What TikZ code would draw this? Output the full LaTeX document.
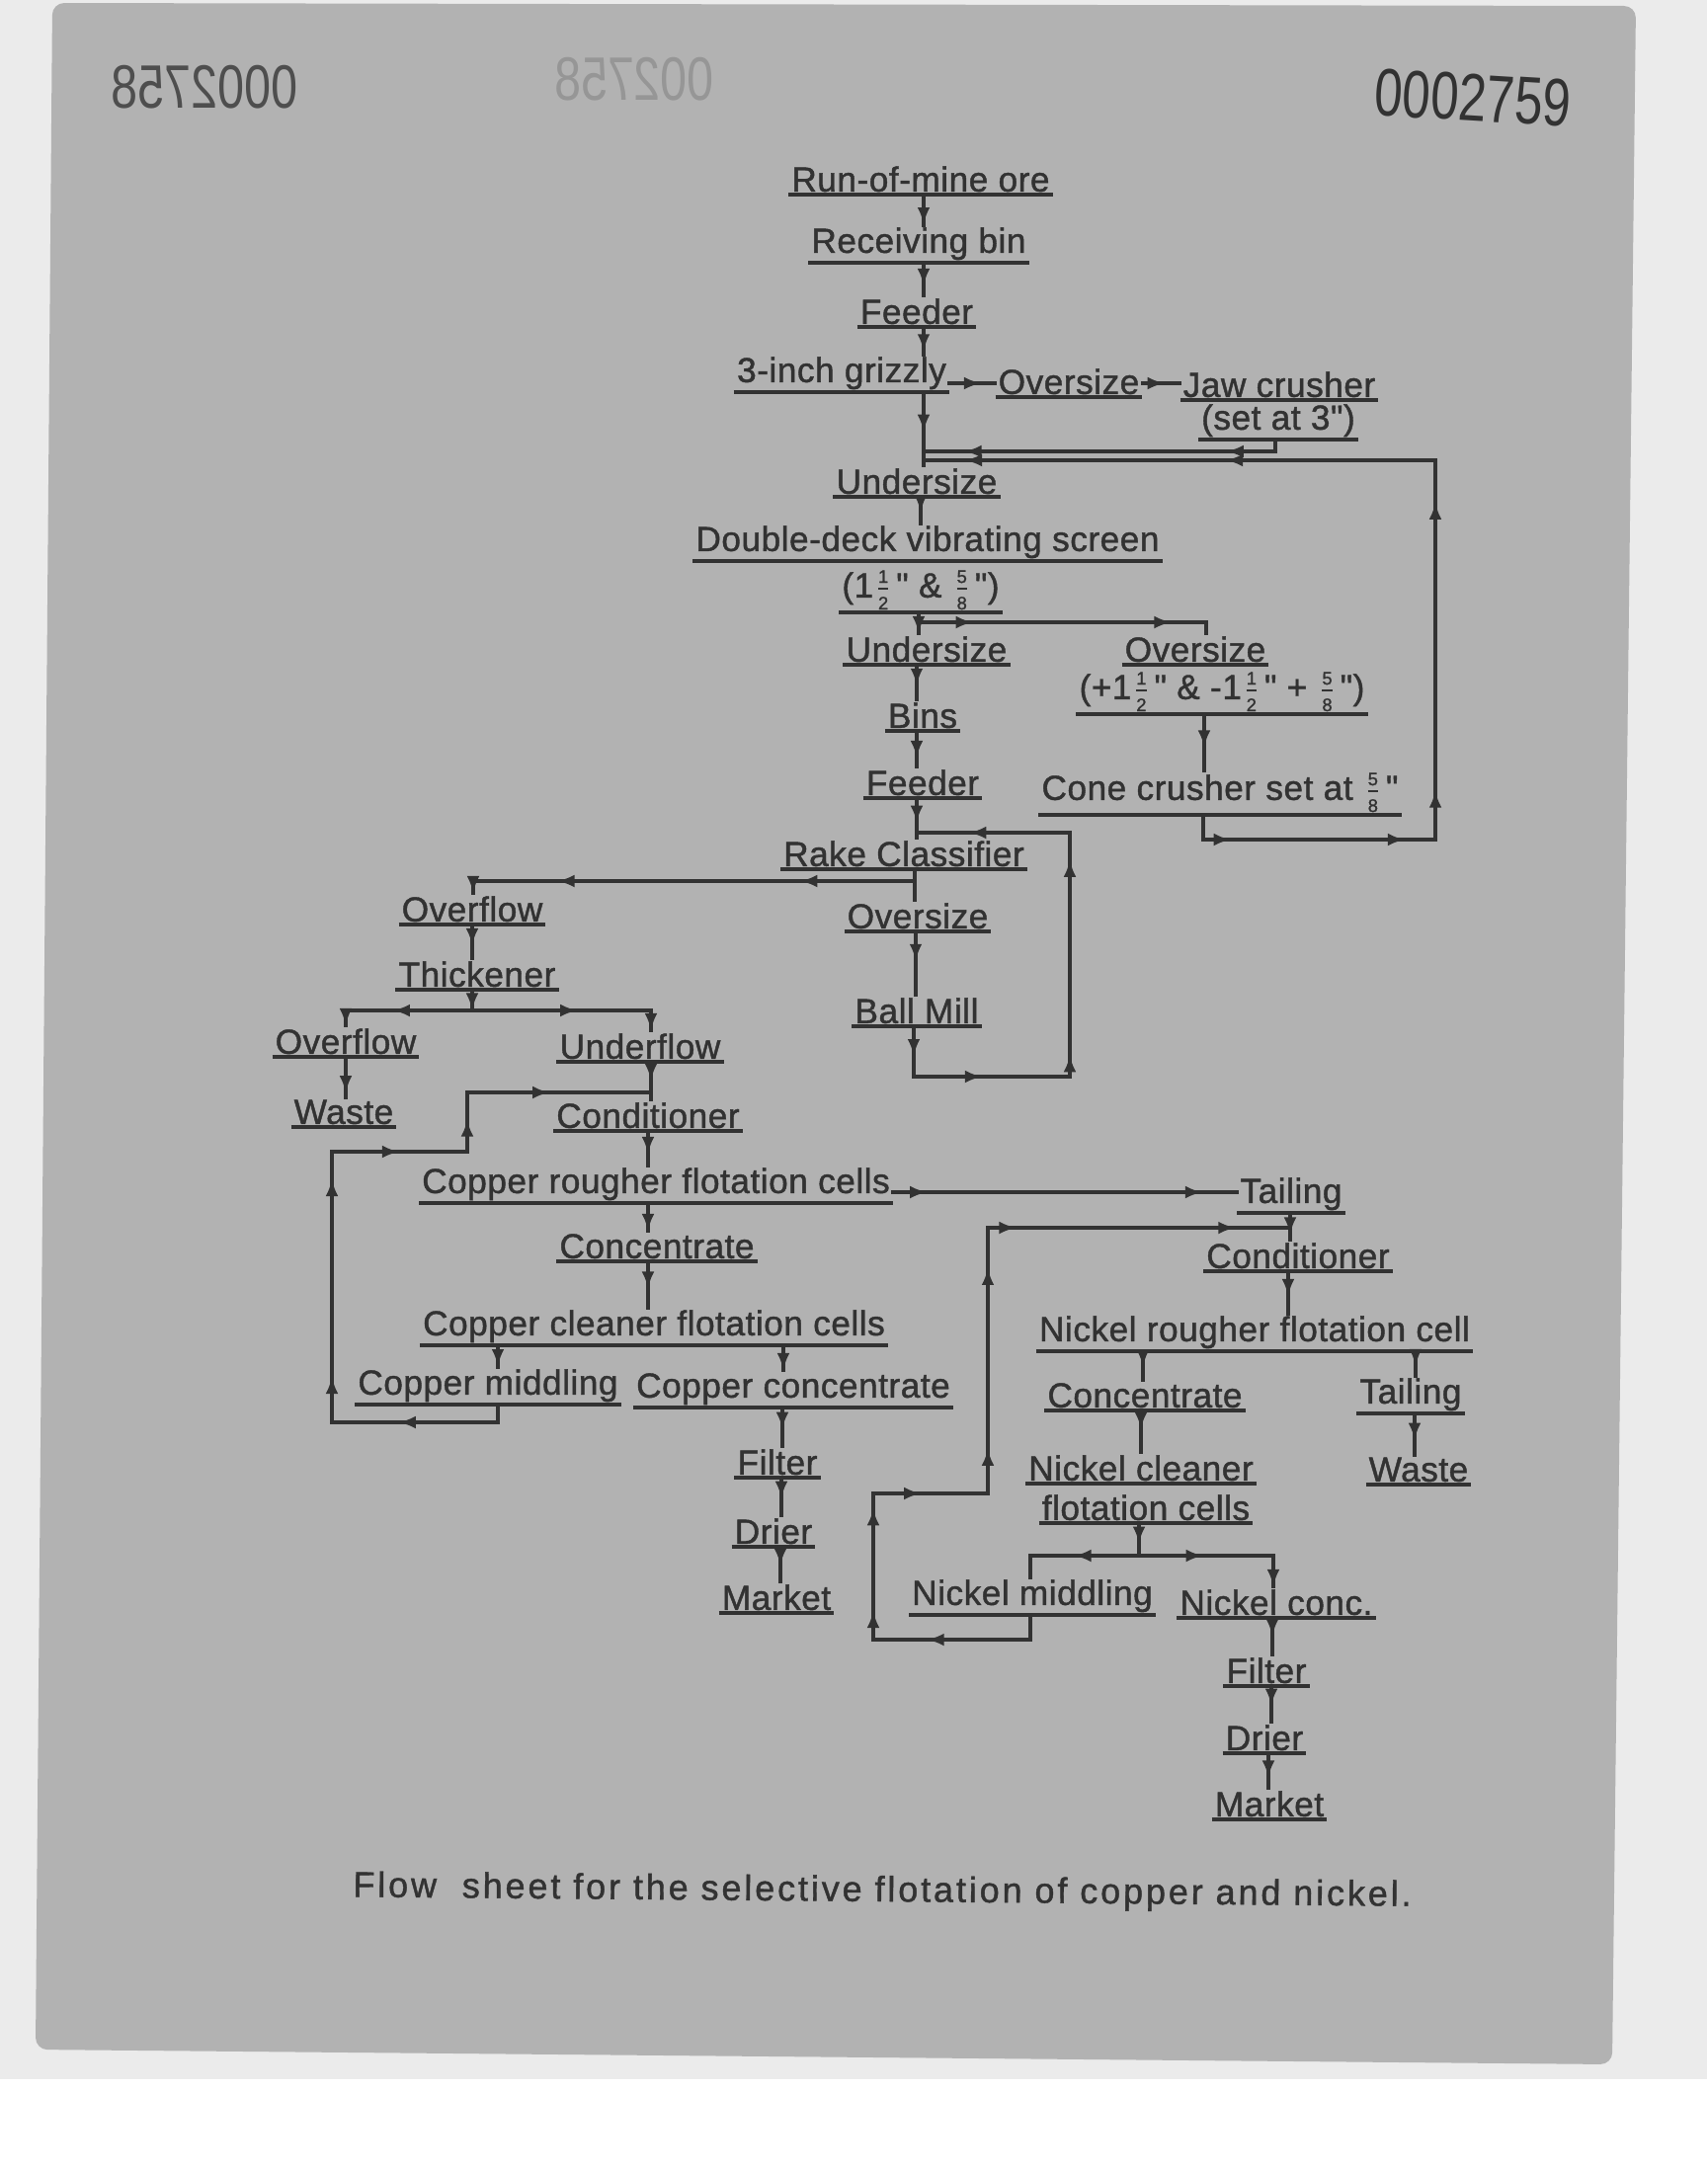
\documentclass[tikz,border=0pt]{standalone}
\usepackage{fontspec}
\usepackage{graphicx}
\setmainfont{Liberation Sans}
\newfontfamily\lett[LetterSpace=1.5, FakeBold=1.2]{Liberation Sans}
\newfontfamily\capt[LetterSpace=8, FakeBold=1.2]{Liberation Sans}
\usetikzlibrary{arrows.meta}
\usetikzlibrary{decorations.markings}
\definecolor{sheet-grey}{RGB}{178, 178, 178}
\definecolor{scan-grey}{RGB}{235, 235, 235}
\definecolor{ink}{RGB}{50, 50, 50}
\newcommand{\fr}[2]{\ensuremath{\frac{\hbox{\fontsize{4.6}{4.6}\selectfont #1}}{\hbox{\fontsize{4.6}{4.6}\selectfont #2}}}\kern0.8pt}
\tikzset{
  lbl/.style={font={\lett\fontsize{8.8}{10}\selectfont}, text=ink, anchor=south, inner xsep=0.6pt, inner ysep=0.5pt,
    append after command={(\tikzlastnode.south west) edge[line width=1.1pt, draw=ink] (\tikzlastnode.south east)}},
  pipe/.style={draw=ink, line width=0.95pt, line cap=rect},
  ahead/.style={postaction={decorate, decoration={markings, mark=at position #1 with {\arrow{Latex[length=4.4pt, width=3.2pt]}}}}},
}

\begin{document}
\begin{tikzpicture}[x=0.25pt, y=-0.25pt]
  \useasboundingbox (0,0) rectangle (1728,2200);
  % scanned sheet
  \fill[scan-grey] (0,0) rectangle (1728,2105);
  \fill[white] (0,2105) rectangle (1728,2200);
  \fill[sheet-grey, rounded corners=3pt] (53,3) -- (1656,6) -- (1632,2090) -- (36,2075) -- cycle;
  \node[font=\fontsize{15.5}{15.5}\selectfont, text=ink!78!sheet-grey] (bleedleft) at (207,88) {\scalebox{-0.78}[1]{0002758}};
  \node[font=\fontsize{15.5}{15.5}\selectfont, text=ink!22!sheet-grey] (bleedmid) at (642,80) {\scalebox{-0.78}[1]{002758}};
  \node[font=\fontsize{17}{17}\selectfont, text=ink, rotate=-3.5] (pageno) at (1491,99) {\scalebox{0.75}[1]{0002759}};

  % crushing and screening
  \node[lbl] (run) at (932,197) {Run-of-mine ore};
  \node[lbl] (bin) at (930,266) {Receiving bin};
  \node[lbl] (feed) at (928,331) {Feeder};
  \node[lbl] (grizzly) at (852,397) {3-inch grizzly};
  \node[lbl] (over1) at (1082,402) {Oversize};
  \node[lbl] (jaw) at (1295,405) {Jaw crusher};
  \node[lbl] (jawset) at (1294,445) {(set at 3")};
  \node[lbl] (under1) at (928,503) {Undersize};
  \node[lbl] (screen) at (939,568) {Double-deck vibrating screen};
  \node[lbl] (mesh) at (932,620) {(1\fr{1}{2}" \& \fr{5}{8}")};
  \node[lbl] (under2) at (938,673) {Undersize};
  \node[lbl] (over2) at (1210,673) {Oversize};
  \node[lbl] (overmesh) at (1237,723) {(+1\fr{1}{2}" \& -1\fr{1}{2}" + \fr{5}{8}")};
  \node[lbl] (bins) at (934,740) {Bins};
  \node[lbl] (feed2) at (934,808) {Feeder};
  \node[lbl] (cone) at (1235,825) {Cone crusher set at \fr{5}{8}"};

  % grinding and classifying
  \node[lbl] (rake) at (915,880) {Rake Classifier};
  \node[lbl] (ovfl1) at (478,936) {Overflow};
  \node[lbl] (over3) at (929,943) {Oversize};
  \node[lbl] (thick) at (483,1002) {Thickener};
  \node[lbl] (ball) at (928,1039) {Ball Mill};
  \node[lbl] (ovfl2) at (350,1070) {Overflow};
  \node[lbl] (underfl) at (648,1075) {Underflow};
  \node[lbl] (waste1) at (348,1141) {Waste};
  \node[lbl] (cond1) at (656,1145) {Conditioner};

  % copper circuit
  \node[lbl] (rough) at (664,1218) {Copper rougher flotation cells};
  \node[lbl] (conc1) at (665,1277) {Concentrate};
  \node[lbl] (clean) at (662,1362) {Copper cleaner flotation cells};
  \node[lbl] (cmid) at (494,1422) {Copper middling};
  \node[lbl] (cconc) at (803,1425) {Copper concentrate};
  \node[lbl] (filt1) at (787,1496) {Filter};
  \node[lbl] (drier1) at (783,1566) {Drier};
  \node[lbl] (mkt1) at (786,1633) {Market};

  % nickel circuit
  \node[lbl] (tail1) at (1307,1228) {Tailing};
  \node[lbl] (cond2) at (1314,1287) {Conditioner};
  \node[lbl] (nrough) at (1270,1368) {Nickel\ rougher flotation cell};
  \node[lbl] (conc2) at (1159,1428) {Concentrate};
  \node[lbl] (tail2) at (1428,1431) {Tailing};
  \node[lbl] (nclean) at (1155,1502) {Nickel cleaner};
  \node[lbl] (waste2) at (1436,1503) {Waste};
  \node[lbl] (nclean2) at (1160,1542) {flotation cells};
  \node[lbl] (nmid) at (1045,1635) {Nickel\ middling};
  \node[lbl] (nconc) at (1292,1638) {Nickel conc.};
  \node[lbl] (filt2) at (1282,1707) {Filter};
  \node[lbl] (drier2) at (1280,1775) {Drier};
  \node[lbl] (mkt2) at (1285,1842) {Market};

  \node[font={\capt\fontsize{9}{10}\selectfont}, text=ink, anchor=base, rotate=-0.5] (caption) at (893,1925)
    {Flow\ \ sheet for the selective flotation of copper and nickel.};

  % bends and joins
  \coordinate (jawret) at (935,457);
  \coordinate (coneret) at (935,466);
  \coordinate (jawbend) at (1291,457);
  \coordinate (conebend) at (1218,850);
  \coordinate (conecorner) at (1453,850);
  \coordinate (conetop) at (1453,466);
  \coordinate (meshsplit) at (930,630);
  \coordinate (overdrop) at (1221,630);
  \coordinate (ballbend) at (925,1090);
  \coordinate (ballcorner) at (1083,1090);
  \coordinate (balltop) at (1083,843);
  \coordinate (ballret) at (928,843);
  \coordinate (rakesplit) at (926,892);
  \coordinate (ovfldrop) at (479,892);
  \coordinate (thicksplit) at (478,1023);
  \coordinate (wasteleft) at (350,1023);
  \coordinate (underright) at (659,1023);
  \coordinate (condjoin) at (659,1106);
  \coordinate (cmidbend) at (504,1440);
  \coordinate (cmidcorner) at (336,1440);
  \coordinate (loopstep) at (336,1166);
  \coordinate (loopstepr) at (473,1166);
  \coordinate (looptop) at (473,1106);
  \coordinate (ncondjoin) at (1306,1243);
  \coordinate (nmidbend) at (1043,1660);
  \coordinate (nmidcorner) at (884,1660);
  \coordinate (nstep) at (884,1512);
  \coordinate (nstepr) at (1000,1512);
  \coordinate (ntop) at (1000,1243);
  \coordinate (nsplit) at (1153,1575);
  \coordinate (nmiddrop) at (1043,1575);
  \coordinate (nconcdrop) at (1289,1575);

  % main line
  \draw[pipe, ahead=1] (run.south -| 935,0) -- (bin.north -| 935,0);
  \draw[pipe, ahead=0.7] (bin.south -| 935,0) -- (feed.north -| 935,0);
  \draw[pipe, ahead=0.9] (feed.south -| 935,0) -- (grizzly.north -| 935,0);
  \draw[pipe, ahead=0.7] (grizzly.east |- 0,388) -- (over1.west |- 0,388);
  \draw[pipe, ahead=0.6] (over1.east |- 0,388) -- (jaw.west |- 0,388);
  \draw[pipe, ahead=0.54] (grizzly.south -| 935,0) -- (under1.north -| 935,0);
  \draw[pipe] (jawset.south -| 1291,0) -- (jawbend);
  \draw[pipe, ahead=0.14, ahead=0.885] (jawbend) -- (jawret);
  \draw[pipe] (cone.south -| 1218,0) -- (conebend);
  \draw[pipe, ahead=0.12, ahead=0.87] (conebend) -- (conecorner);
  \draw[pipe, ahead=0.13, ahead=0.89] (conecorner) -- (conetop);
  \draw[pipe, ahead=0.41, ahead=0.92] (conetop) -- (coneret);
  \draw[pipe, ahead=0.6] (under1.south -| 932,0) -- (screen.north -| 932,0);
  \draw[pipe] (mesh.south -| 930,0) -- (meshsplit);
  \draw[pipe, ahead=1] (meshsplit) -- (under2.north -| 930,0);
  \draw[pipe, ahead=0.19, ahead=0.88] (meshsplit) -- (overdrop);
  \draw[pipe] (overdrop) -- (over2.north -| 1221,0);
  \draw[pipe, ahead=0.6] (under2.south -| 928,0) -- (bins.north -| 928,0);
  \draw[pipe, ahead=0.6] (overmesh.south -| 1219,0) -- (cone.north -| 1219,0);
  \draw[pipe, ahead=0.75] (bins.south -| 928,0) -- (feed2.north -| 928,0);
  \draw[pipe, ahead=0.62] (feed2.south -| 928,0) -- (rake.north -| 928,0);

  % classifier and ball mill
  \draw[pipe, ahead=0.6] (ball.south -| 925,0) -- (ballbend);
  \draw[pipe, ahead=0.44] (ballbend) -- (ballcorner);
  \draw[pipe, ahead=0.09, ahead=0.89] (ballcorner) -- (balltop);
  \draw[pipe, ahead=0.66] (balltop) -- (ballret);
  \draw[pipe] (rake.south -| 926,0) -- (rakesplit);
  \draw[pipe, ahead=0.26, ahead=0.81] (rakesplit) -- (ovfldrop);
  \draw[pipe, ahead=1] (ovfldrop) -- (ovfl1.north -| 479,0);
  \draw[pipe] (rakesplit) -- (over3.north -| 926,0);
  \draw[pipe, ahead=0.47] (over3.south -| 927,0) -- (ball.north -| 927,0);
  \draw[pipe, ahead=0.62] (ovfl1.south -| 478,0) -- (thick.north -| 478,0);
  \draw[pipe, ahead=1] (thick.south -| 478,0) -- (thicksplit);
  \draw[pipe, ahead=0.63] (thicksplit) -- (wasteleft);
  \draw[pipe, ahead=0.59] (thicksplit) -- (underright);
  \draw[pipe, ahead=1] (wasteleft) -- (ovfl2.north -| 350,0);
  \draw[pipe, ahead=1] (underright) -- (underfl.north -| 659,0);
  \draw[pipe, ahead=0.9] (ovfl2.south -| 350,0) -- (waste1.north -| 350,0);
  \draw[pipe, ahead=0.5] (underfl.south -| 659,0) -- (cond1.north -| 659,0);

  % copper flotation
  \draw[pipe, ahead=0.68] (cond1.south -| 656,0) -- (rough.north -| 656,0);
  \draw[pipe, ahead=0.1, ahead=0.9] (rough.east |- 0,1207) -- (tail1.west |- 0,1207);
  \draw[pipe, ahead=1] (rough.south -| 656,0) -- (conc1.north -| 656,0);
  \draw[pipe, ahead=0.6] (conc1.south -| 656,0) -- (clean.north -| 656,0);
  \draw[pipe, ahead=1] (clean.south -| 504,0) -- (cmid.north -| 504,0);
  \draw[pipe, ahead=1] (clean.south -| 793,0) -- (cconc.north -| 793,0);
  \draw[pipe] (cmid.south -| 504,0) -- (cmidbend);
  \draw[pipe, ahead=0.6] (cmidbend) -- (cmidcorner);
  \draw[pipe, ahead=0.17, ahead=0.9] (cmidcorner) -- (loopstep);
  \draw[pipe, ahead=0.5] (loopstep) -- (loopstepr);
  \draw[pipe, ahead=0.55] (loopstepr) -- (looptop);
  \draw[pipe, ahead=0.45] (looptop) -- (condjoin);
  \draw[pipe, ahead=0.56] (cconc.south -| 792,0) -- (filt1.north -| 792,0);
  \draw[pipe, ahead=0.55] (filt1.south -| 791,0) -- (drier1.north -| 791,0);
  \draw[pipe, ahead=0.54] (drier1.south -| 790,0) -- (mkt1.north -| 790,0);

  % nickel flotation
  \draw[pipe, ahead=0.8] (tail1.south -| 1306,0) -- (cond2.north -| 1306,0);
  \draw[pipe] (nmid.south -| 1043,0) -- (nmidbend);
  \draw[pipe, ahead=0.66] (nmidbend) -- (nmidcorner);
  \draw[pipe, ahead=0.2, ahead=0.9] (nmidcorner) -- (nstep);
  \draw[pipe, ahead=0.42] (nstep) -- (nstepr);
  \draw[pipe, ahead=0.17, ahead=0.85] (nstepr) -- (ntop);
  \draw[pipe, ahead=0.095, ahead=0.82] (ntop) -- (ncondjoin);
  \draw[pipe, ahead=0.6] (cond2.south -| 1304,0) -- (nrough.north -| 1304,0);
  \draw[pipe, ahead=0.55] (nrough.south -| 1157,0) -- (conc2.north -| 1157,0);
  \draw[pipe, ahead=0.63] (nrough.south -| 1433,0) -- (tail2.north -| 1433,0);
  \draw[pipe, ahead=0.45] (conc2.south -| 1155,0) -- (nclean.north -| 1155,0);
  \draw[pipe, ahead=0.65] (tail2.south -| 1432,0) -- (waste2.north -| 1432,0);
  \draw[pipe, ahead=0.64] (nclean2.south -| 1153,0) -- (nsplit);
  \draw[pipe, ahead=0.6] (nsplit) -- (nmiddrop);
  \draw[pipe, ahead=0.48] (nsplit) -- (nconcdrop);
  \draw[pipe] (nmiddrop) -- (nmid.north -| 1043,0);
  \draw[pipe, ahead=1] (nconcdrop) -- (nconc.north -| 1289,0);
  \draw[pipe, ahead=0.5] (nconc.south -| 1288,0) -- (filt2.north -| 1288,0);
  \draw[pipe, ahead=0.55] (filt2.south -| 1287,0) -- (drier2.north -| 1287,0);
  \draw[pipe, ahead=0.7] (drier2.south -| 1284,0) -- (mkt2.north -| 1284,0);
\end{tikzpicture}
\end{document}
